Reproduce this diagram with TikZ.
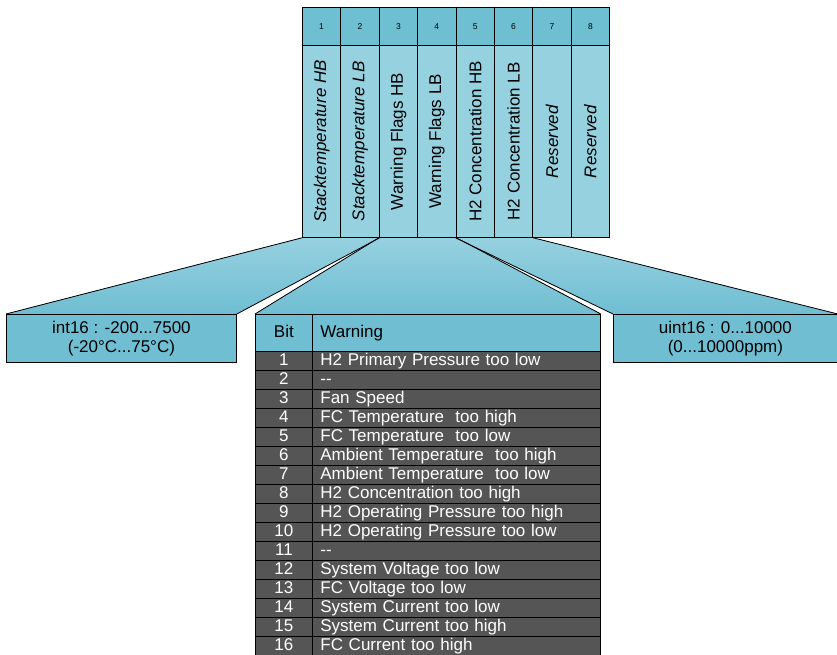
\documentclass[tikz,border=0pt]{standalone}
\usepackage{fontspec}
\setmainfont{Liberation Sans}
\usepackage{tikz}
\usetikzlibrary{backgrounds}

\definecolor{headblue}{HTML}{6FBFD3}
\definecolor{cellblue}{HTML}{96D1E0}
\definecolor{boxblue}{HTML}{70BED2}
\definecolor{rowgray}{HTML}{555555}

\begin{document}
\begin{tikzpicture}[x=1pt,y=-1pt,
	headcell/.style={draw=black, fill=headblue, line width=0.8pt, anchor=north west, inner sep=0pt, minimum width=38.4pt, minimum height=38pt, font=\fontsize{8.5}{9}\selectfont},
	bytecell/.style={draw=black, fill=cellblue, line width=0.8pt, anchor=north west, inner sep=0pt, minimum width=38.4pt, minimum height=192pt},
	valbox/.style={draw=black, fill=boxblue, line width=0.8pt, anchor=north west, inner sep=0pt, minimum height=48pt, align=center, font=\fontsize{17}{19}\selectfont},
	bitcell/.style={draw=black, fill=rowgray, text=white, line width=0.8pt, anchor=north west, inner sep=0pt, minimum width=57pt, minimum height=19pt, text height=12pt, text depth=3pt, font=\fontsize{17}{19}\selectfont},
	warncell/.style={bitcell, minimum width=288pt, text width=272pt, align=left, inner xsep=8pt},
	funnel/.style={top color=cellblue, bottom color=boxblue},
	side/.style={draw=black, line width=0.8pt}]
	\useasboundingbox (0,0) rectangle (837,654);
	\tikzset{vtext/.style={font=\fontsize{17}{19}\selectfont}}

	\node[headcell] (h1) at (302,7) {1};
	\node[headcell] (h2) at (340.4,7) {2};
	\node[headcell] (h3) at (378.8,7) {3};
	\node[headcell] (h4) at (417.2,7) {4};
	\node[headcell] (h5) at (455.6,7) {5};
	\node[headcell] (h6) at (494,7) {6};
	\node[headcell] (h7) at (532.4,7) {7};
	\node[headcell] (h8) at (570.8,7) {8};

	\node[bytecell, label={[rotate=90, vtext]center:\textit{Stacktemperature HB}}] (b1) at (302,45) {};
	\node[bytecell, label={[rotate=90, vtext]center:\textit{Stacktemperature LB}}] (b2) at (340.4,45) {};
	\node[bytecell, label={[rotate=90, vtext]center:Warning Flags HB}] (b3) at (378.8,45) {};
	\node[bytecell, label={[rotate=90, vtext]center:Warning Flags LB}] (b4) at (417.2,45) {};
	\node[bytecell, label={[rotate=90, vtext]center:H2 Concentration HB}] (b5) at (455.6,45) {};
	\node[bytecell, label={[rotate=90, vtext]center:H2 Concentration LB}] (b6) at (494,45) {};
	\node[bytecell, label={[rotate=90, vtext]center:\textit{Reserved}}] (b7) at (532.4,45) {};
	\node[bytecell, label={[rotate=90, vtext]center:\textit{Reserved}}] (b8) at (570.8,45) {};

	%% value boxes
	\node[valbox, minimum width=230pt] (temp) at (6,314) {int16 : -200...7500\\(-20°C...75°C)};
	\node[valbox, minimum width=224pt] (conc) at (613,314) {uint16 : 0...10000\\(0...10000ppm)};

	%% warning table
	\node[bitcell, fill=boxblue, text=black, minimum height=37pt] (bit0) at (255,314) {Bit};
	\node[warncell, fill=boxblue, text=black, minimum height=37pt] (warn0) at (312,314) {Warning};
	\node[bitcell] (bit1) at (255,351) {1};
	\node[warncell] (warn1) at (312,351) {H2 Primary Pressure too low};
	\node[bitcell] (bit2) at (255,370) {2};
	\node[warncell] (warn2) at (312,370) {{-}{-}};
	\node[bitcell] (bit3) at (255,389) {3};
	\node[warncell] (warn3) at (312,389) {Fan Speed};
	\node[bitcell] (bit4) at (255,408) {4};
	\node[warncell] (warn4) at (312,408) {FC Temperature\ \ too high};
	\node[bitcell] (bit5) at (255,427) {5};
	\node[warncell] (warn5) at (312,427) {FC Temperature\ \ too low};
	\node[bitcell] (bit6) at (255,446) {6};
	\node[warncell] (warn6) at (312,446) {Ambient Temperature\ \ too high};
	\node[bitcell] (bit7) at (255,465) {7};
	\node[warncell] (warn7) at (312,465) {Ambient Temperature\ \ too low};
	\node[bitcell] (bit8) at (255,484) {8};
	\node[warncell] (warn8) at (312,484) {H2 Concentration too high};
	\node[bitcell] (bit9) at (255,503) {9};
	\node[warncell] (warn9) at (312,503) {H2 Operating Pressure too high};
	\node[bitcell] (bit10) at (255,522) {10};
	\node[warncell] (warn10) at (312,522) {H2 Operating Pressure too low};
	\node[bitcell] (bit11) at (255,541) {11};
	\node[warncell] (warn11) at (312,541) {{-}{-}};
	\node[bitcell] (bit12) at (255,560) {12};
	\node[warncell] (warn12) at (312,560) {System Voltage too low};
	\node[bitcell] (bit13) at (255,579) {13};
	\node[warncell] (warn13) at (312,579) {FC Voltage too low};
	\node[bitcell] (bit14) at (255,598) {14};
	\node[warncell] (warn14) at (312,598) {System Current too low};
	\node[bitcell] (bit15) at (255,617) {15};
	\node[warncell] (warn15) at (312,617) {System Current too high};
	\node[bitcell] (bit16) at (255,636) {16};
	\node[warncell] (warn16) at (312,636) {FC Current too high};

	%% funnels
	\begin{scope}[on background layer]
		\fill[funnel] (b1.south west) -- (b2.south east) -- (temp.north east) -- (temp.north west) -- cycle;
		\fill[funnel] (b3.south west) -- (b4.south east) -- (warn0.north east) -- (bit0.north west) -- cycle;
		\fill[funnel] (b5.south west) -- (b6.south east) -- (conc.north east) -- (conc.north west) -- cycle;
	\end{scope}
	\draw[side] (b1.south west) -- (temp.north west);
	\draw[side] (b2.south east) -- (temp.north east);
	\draw[side] (b3.south west) -- (bit0.north west);
	\draw[side] (b4.south east) -- (warn0.north east);
	\draw[side] (b5.south west) -- (conc.north west);
	\draw[side] (b6.south east) -- (conc.north east);
\end{tikzpicture}
\end{document}
